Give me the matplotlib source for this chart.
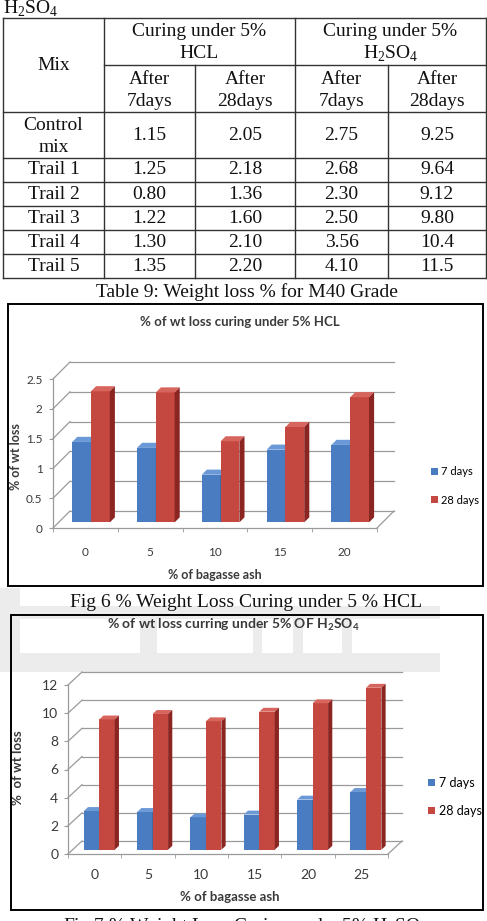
import matplotlib
matplotlib.use('Agg')
import matplotlib.pyplot as plt
from matplotlib.patches import Polygon, Rectangle
from matplotlib.lines import Line2D
import numpy as np

plt.rcParams['mathtext.fontset'] = 'custom'
plt.rcParams['mathtext.rm'] = 'Liberation Serif'
plt.rcParams['mathtext.bf'] = 'Lato:bold'

# ---------------- data ----------------
table_mixes = [['Control', 'mix'], ['Trail 1'], ['Trail 2'], ['Trail 3'], ['Trail 4'], ['Trail 5']]
hcl_7 = ['1.15', '1.25', '0.80', '1.22', '1.30', '1.35']
hcl_28 = ['2.05', '2.18', '1.36', '1.60', '2.10', '2.20']
h2so4_7 = ['2.75', '2.68', '2.30', '2.50', '3.56', '4.10']
h2so4_28 = ['9.25', '9.64', '9.12', '9.80', '10.4', '11.5']

fig6_ash = ['0', '5', '10', '15', '20']
fig6_7days = [1.35, 1.25, 0.80, 1.22, 1.30]
fig6_28days = [2.20, 2.18, 1.36, 1.60, 2.10]
fig6_yticks = [0, 0.5, 1, 1.5, 2, 2.5]
fig6_yticklabels = ['0', '0.5', '1', '1.5', '2', '2.5']

fig7_ash = ['0', '5', '10', '15', '20', '25']
fig7_7days = [2.75, 2.68, 2.30, 2.50, 3.56, 4.10]
fig7_28days = [9.25, 9.64, 9.12, 9.80, 10.4, 11.5]
fig7_yticks = [0, 2, 4, 6, 8, 10, 12]
fig7_yticklabels = ['0', '2', '4', '6', '8', '10', '12']

series_names = ['7 days', '28 days']

# ---------------- figure ----------------
W, H = 487, 921
fig = plt.figure(figsize=(W / 100, H / 100), dpi=100)
page = fig.add_axes([0, 0, 1, 1])
page.set_xlim(0, W)
page.set_ylim(H, 0)
page.axis('off')

SERIF = 'Liberation Serif'
SANS = 'Lato'
TXT = '#111111'


def fbox(x0, y0, x1, y1):
    return [x0 / W, 1 - y1 / H, (x1 - x0) / W, (y1 - y0) / H]


# ---------------- watermark (faint) ----------------
wm = '#ececec'
for (x0, y0, x1, y1) in [(0, 588, 20, 672), (0, 606, 440, 619), (0, 653, 440, 672),
                         (140, 606, 157, 672), (253, 606, 262, 672), (293, 606, 303, 672),
                         (342, 606, 352, 672)]:
    page.add_patch(Rectangle((x0, y0), x1 - x0, y1 - y0, color=wm, lw=0, zorder=0))

# ---------------- table ----------------
page.text(3, 14, r'H$_\mathrm{2}$SO$_\mathrm{4}$', fontsize=14, family=SERIF, color=TXT,
          ha='left', va='baseline')

LC = '#333333'
LW = 1.0
tx0, tx1 = 3, 486
ty0, ty1 = 18, 278
c_mix, c_a, c_grp, c_b = 104, 195, 295, 388
y_h1, y_h2 = 65, 112
row_lines = [158, 182, 206, 230, 254]


def hline(x0, x1, y):
    page.add_line(Line2D([x0, x1], [y, y], color=LC, lw=LW))


def vline(x, y0, y1):
    page.add_line(Line2D([x, x], [y0, y1], color=LC, lw=LW))


hline(tx0, tx1, ty0)
hline(tx0, tx1, ty1)
hline(c_mix, tx1, y_h1)
hline(tx0, tx1, y_h2)
for yl in row_lines:
    hline(tx0, tx1, yl)
vline(tx0, ty0, ty1)
vline(tx1, ty0, ty1)
vline(c_mix, ty0, ty1)
vline(c_grp, ty0, ty1)
vline(c_a, y_h1, ty1)
vline(c_b, y_h1, ty1)

FS = 14


def ctext(x, y, s, fs=FS):
    page.text(x, y, s, fontsize=fs, family=SERIF, color=TXT, ha='center', va='center')


ctext((tx0 + c_mix) / 2, (ty0 + y_h2) / 2, 'Mix')
ctext((c_mix + c_grp) / 2, 32, 'Curing under 5%')
ctext((c_mix + c_grp) / 2, 54, 'HCL')
ctext((c_grp + tx1) / 2, 32, 'Curing under 5%')
ctext((c_grp + tx1) / 2, 54, r'H$_\mathrm{2}$SO$_\mathrm{4}$')
col_centers = [(c_mix + c_a) / 2, (c_a + c_grp) / 2, (c_grp + c_b) / 2, (c_b + tx1) / 2]
for cx, sub in zip(col_centers, ['7days', '28days', '7days', '28days']):
    ctext(cx, 79, 'After')
    ctext(cx, 101, sub)

row_bounds = [y_h2] + row_lines + [ty1]
for i, mix in enumerate(table_mixes):
    r0, r1 = row_bounds[i], row_bounds[i + 1]
    if len(mix) == 2:
        ctext((tx0 + c_mix) / 2, r0 + 13, mix[0])
        ctext((tx0 + c_mix) / 2, r0 + 35, mix[1])
    else:
        ctext((tx0 + c_mix) / 2, (r0 + r1) / 2, mix[0])
    for cx, col in zip(col_centers, [hcl_7, hcl_28, h2so4_7, h2so4_28]):
        ctext(cx, (r0 + r1) / 2, col[i])

ctext(247, 292, 'Table 9: Weight loss % for M40 Grade')

# ---------------- 3D-looking bar charts ----------------
GRID = '#9a9a9a'
LAB = '#3a3a3a'
BLUE = ('#4a7cc2', '#6b98d6', '#2c568f')   # front, top, side
RED = ('#c4483f', '#d8655d', '#8a2522')


def chart(front_px, depth_px, cats, v7, v28, yticks, yticklabels, tick_fs, ypad, xpad):
    x0, ytop, x1, ybot = front_px
    ncat = len(cats)
    ymax = yticks[-1]
    ax = fig.add_axes(fbox(x0, ytop, x1, ybot))
    ax.patch.set_visible(False)
    ax.set_xlim(0, ncat)
    ax.set_ylim(0, ymax)
    ox = depth_px[0] * ncat / (x1 - x0)
    oy = depth_px[1] * ymax / (ybot - ytop)

    for sp in ['top', 'right']:
        ax.spines[sp].set_visible(False)
    for sp in ['left', 'bottom']:
        ax.spines[sp].set_color(GRID)
        ax.spines[sp].set_linewidth(0.9)

    # back wall grid + connectors
    for t in yticks:
        ax.plot([ox, ncat + ox], [t + oy, t + oy], color=GRID, lw=0.9, clip_on=False, zorder=1)
        ax.plot([0, ox], [t, t + oy], color=GRID, lw=0.9, clip_on=False, zorder=1)
    ax.plot([ncat, ncat + ox], [0, oy], color=GRID, lw=0.9, clip_on=False, zorder=1)

    ax.set_yticks(yticks)
    ax.set_yticklabels(yticklabels)
    ax.tick_params(axis='y', length=3, color=GRID, labelsize=tick_fs, labelcolor=LAB, pad=ypad)
    centers = np.arange(ncat) + 0.5
    ax.set_xticks(centers)
    ax.set_xticklabels(cats)
    ax.set_xticks(np.arange(ncat + 1), minor=True)
    ax.tick_params(axis='x', which='major', length=0, labelsize=tick_fs, labelcolor=LAB, pad=xpad)
    ax.tick_params(axis='x', which='minor', length=3, color=GRID)
    for lab in ax.get_xticklabels() + ax.get_yticklabels():
        lab.set_family(SANS)

    w = 0.29
    f0, bd = 0.33, 0.30
    b = f0 * oy
    for i in range(ncat):
        for vals, cols, left, name in [(v7, BLUE, centers[i] - w, series_names[0]),
                                       (v28, RED, centers[i], series_names[1])]:
            v = vals[i]
            xl = left + f0 * ox
            ax.bar(xl, v, width=w, bottom=b, align='edge', color=cols[0], lw=0,
                   clip_on=False, zorder=3, label=name if i == 0 else None)
            top = [(xl, v + b), (xl + w, v + b), (xl + w + bd * ox, v + b + bd * oy),
                   (xl + bd * ox, v + b + bd * oy)]
            side = [(xl + w, b), (xl + w, v + b), (xl + w + bd * ox, v + b + bd * oy),
                    (xl + w + bd * ox, b + bd * oy)]
            ax.add_patch(Polygon(top, closed=True, color=cols[1], lw=0, clip_on=False, zorder=3))
            ax.add_patch(Polygon(side, closed=True, color=cols[2], lw=0, clip_on=False, zorder=3))
    return ax


# Fig 6 frame
page.add_patch(Rectangle((8, 304), 475, 282, fill=False, ec='black', lw=1.4, zorder=5))
ax1 = chart((53, 379, 377, 528), (17, 17), fig6_ash, fig6_7days, fig6_28days,
            fig6_yticks, fig6_yticklabels, 8.5, 4.5, 13.5)
page.text(240, 322, '% of wt loss curing under 5% HCL', fontsize=9.5, family=SANS,
          weight='bold', color=LAB, ha='center', va='center')
page.text(16, 457, '% of wt loss', fontsize=9, family=SANS, weight='bold', color=LAB,
          rotation=90, ha='center', va='center')
page.text(215, 575, '% of bagasse ash', fontsize=9, family=SANS, weight='bold', color=LAB,
          ha='center', va='center')
ax1.legend(loc='center left', bbox_to_anchor=(431 / W, 1 - 486 / H), bbox_transform=fig.transFigure,
           frameon=False, handlelength=0.6, handleheight=0.6, handletextpad=0.3,
           labelspacing=1.6, borderpad=0, borderaxespad=0, prop={'family': SANS, 'size': 8})
ctext(246, 602, 'Fig 6 % Weight Loss Curing under 5 % HCL')

# Fig 7 frame
page.add_patch(Rectangle((11, 615), 472, 295, fill=False, ec='black', lw=1.4, zorder=5))
ax2 = chart((68, 685, 388, 854), (14, 13), fig7_ash, fig7_7days, fig7_28days,
            fig7_yticks, fig7_yticklabels, 10, 4, 11)
page.text(233, 625, r'% of wt loss curring under 5% OF H$_\mathbf{2}$SO$_\mathbf{4}$', fontsize=10,
          family=SANS, weight='bold', color=LAB, ha='center', va='center')
page.text(18, 768, '%  of wt loss', fontsize=9.5, family=SANS, weight='bold', color=LAB,
          rotation=90, ha='center', va='center')
page.text(230, 897, '% of bagasse ash', fontsize=9.5, family=SANS, weight='bold', color=LAB,
          ha='center', va='center')
ax2.legend(loc='center left', bbox_to_anchor=(428 / W, 1 - 797 / H), bbox_transform=fig.transFigure,
           frameon=False, handlelength=0.55, handleheight=0.55, handletextpad=0.3,
           labelspacing=1.3, borderpad=0, borderaxespad=0, prop={'family': SANS, 'size': 9})
ctext(246, 926, r'Fig 7 % Weight Loss Curing under 5% H$_\mathrm{2}$SO$_\mathrm{4}$')

fig.savefig('out.png', dpi=100)
